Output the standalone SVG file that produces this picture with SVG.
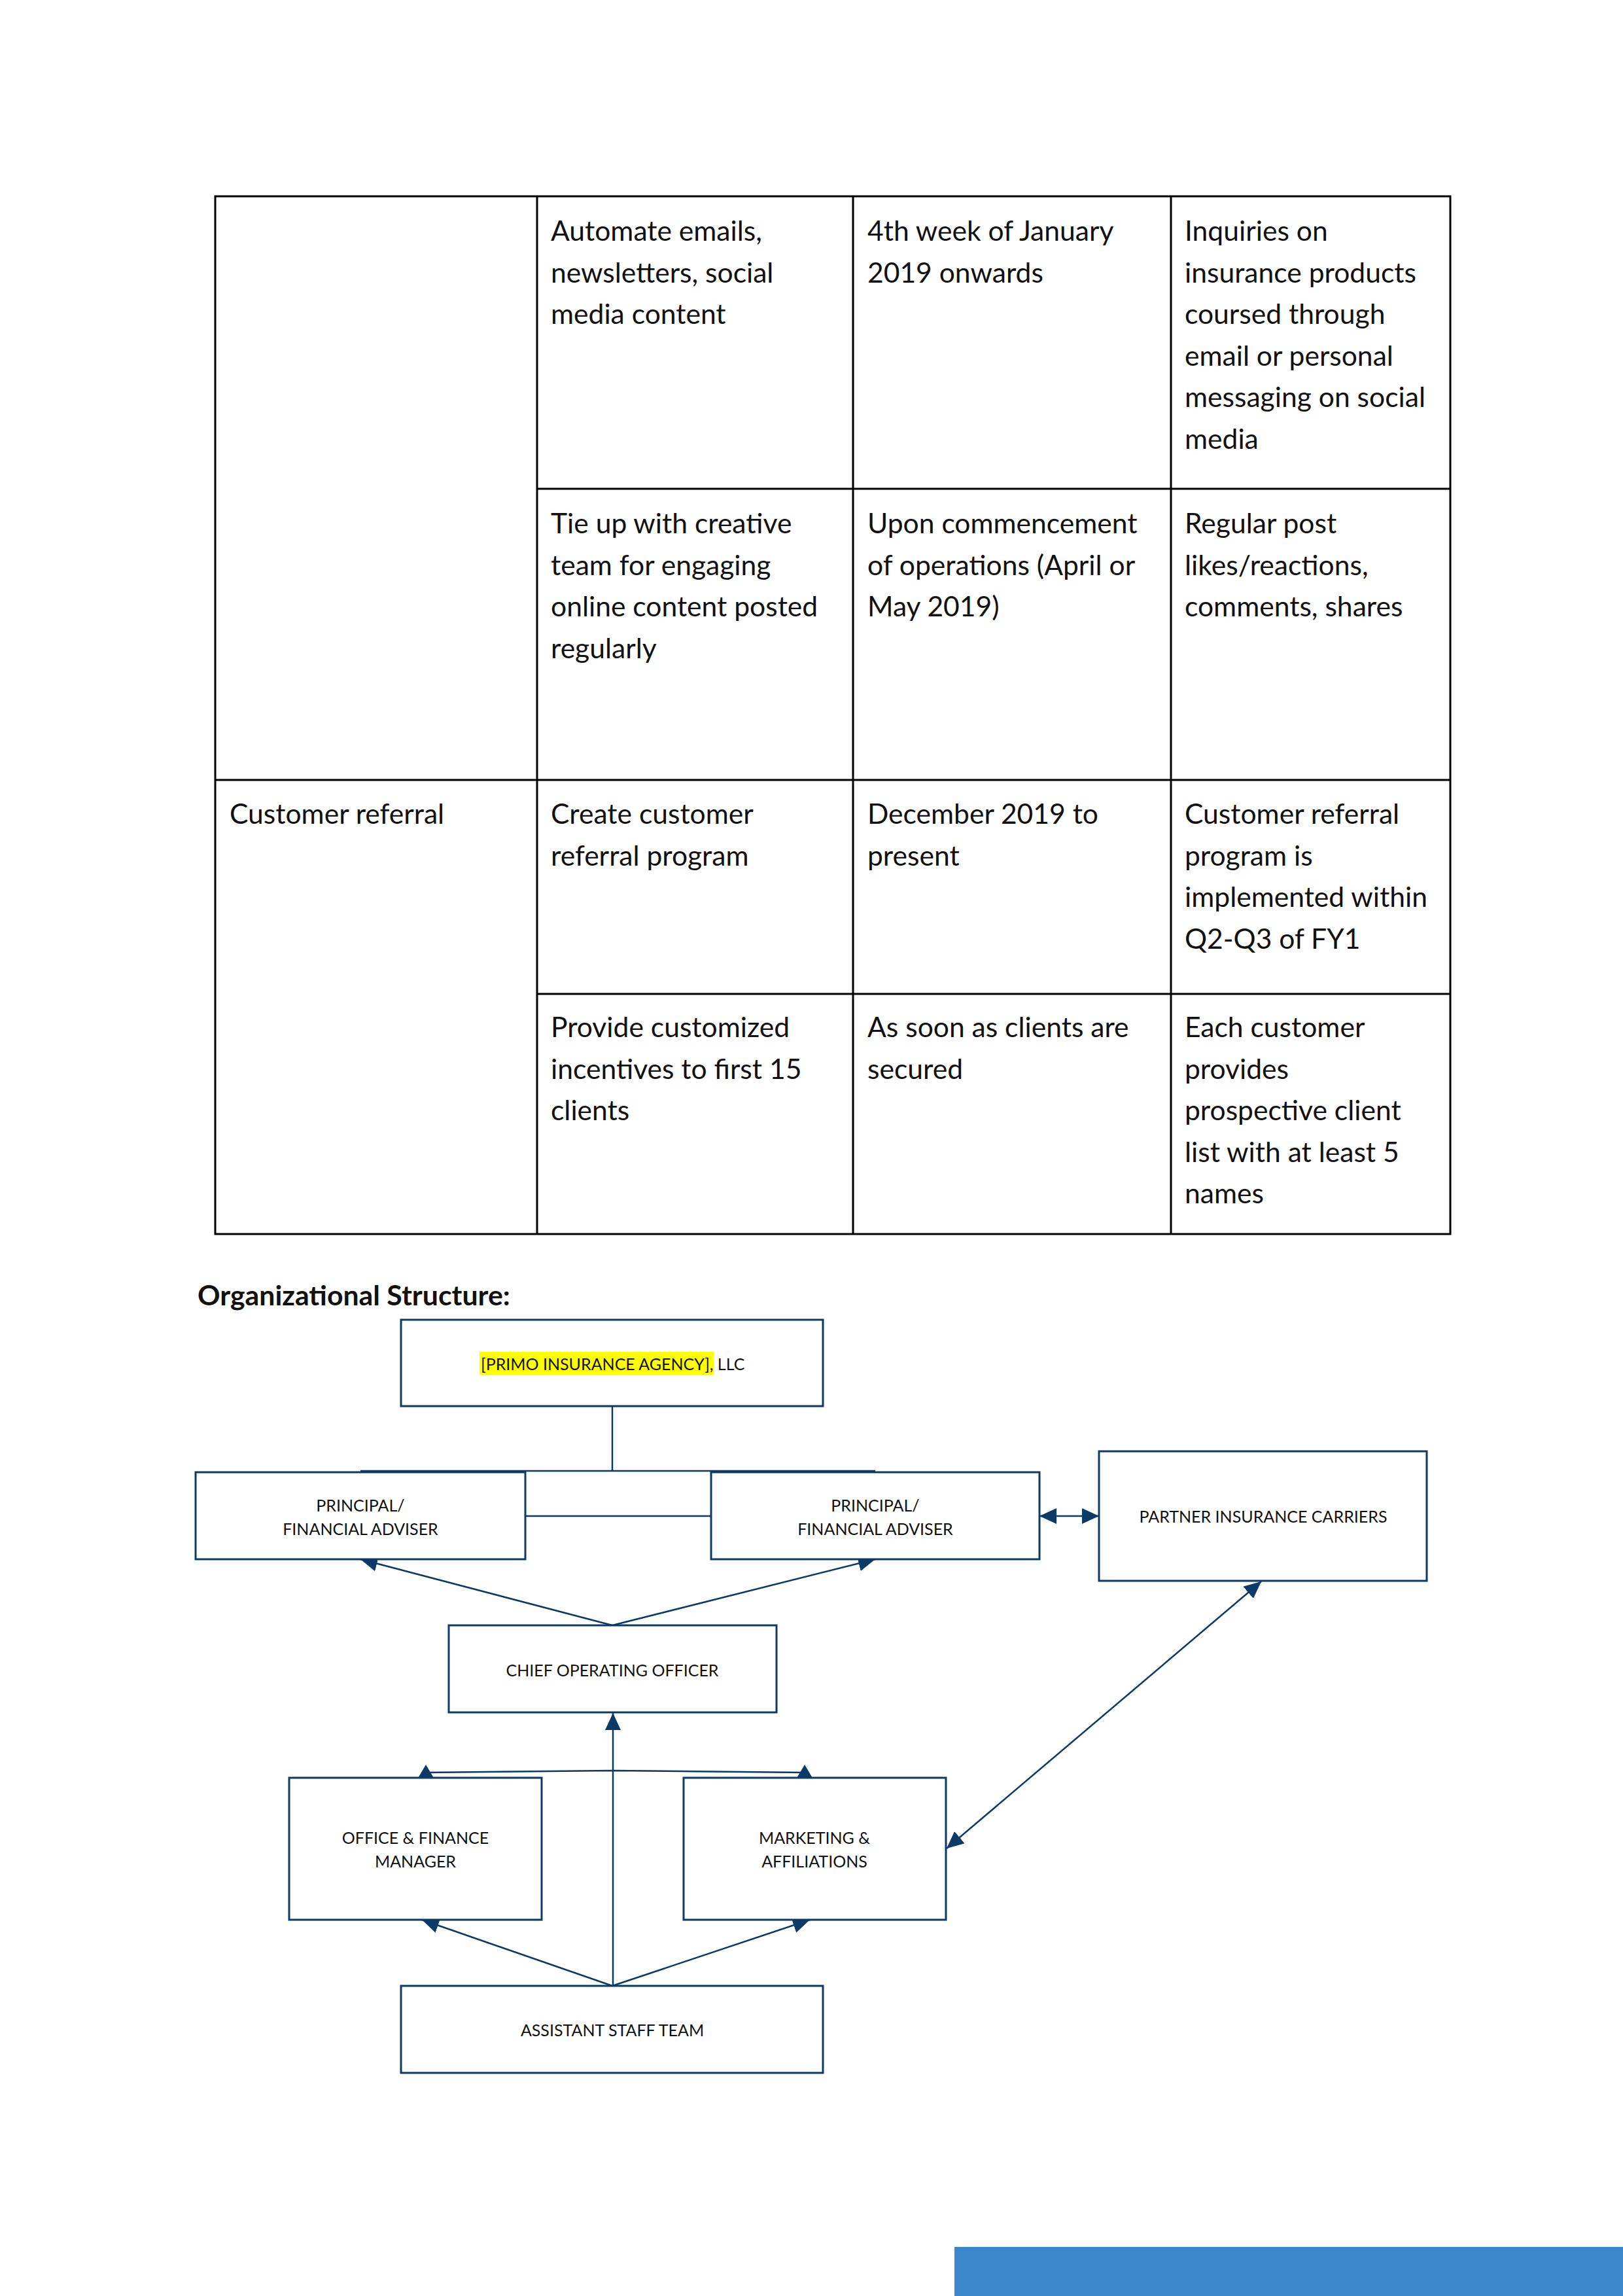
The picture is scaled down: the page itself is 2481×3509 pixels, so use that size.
<svg xmlns="http://www.w3.org/2000/svg" width="2481" height="3509" viewBox="0 0 2481 3509">
<style>
.tt{font-family:Lato,"Liberation Sans",sans-serif;font-size:42.6px;fill:#111}
.grid{stroke:#000;stroke-width:3;fill:none}
.box{fill:#fff;stroke:#0C3A66;stroke-width:3}
.bt{font-family:Lato,"Liberation Sans",sans-serif;font-size:25px;fill:#111;text-anchor:middle}
.con{stroke:#0C3A66;stroke-width:2.5;fill:none}
.head{fill:#0C3A66}
.h1{font-family:Lato,"Liberation Sans",sans-serif;font-size:42.8px;font-weight:bold;fill:#111}
</style>
<defs>
<marker id="arr" markerUnits="userSpaceOnUse" markerWidth="26" markerHeight="24" refX="26" refY="12" orient="auto-start-reverse" viewBox="0 0 26 24">
<path d="M0,0 L26,12 L0,24 z" fill="#0C3A66"/>
</marker>
</defs>
<rect width="2481" height="3509" fill="#fff"/>
<g id="table">
<rect class="grid" x="329" y="300" width="1888" height="1586"/>
<line class="grid" x1="821" y1="300" x2="821" y2="1886"/>
<line class="grid" x1="1304" y1="300" x2="1304" y2="1886"/>
<line class="grid" x1="1790" y1="300" x2="1790" y2="1886"/>
<line class="grid" x1="821" y1="747" x2="2217" y2="747"/>
<line class="grid" x1="329" y1="1192" x2="2217" y2="1192"/>
<line class="grid" x1="821" y1="1519" x2="2217" y2="1519"/>
<text class="tt" x="842" y="368"><tspan x="842">Automate emails,</tspan><tspan x="842" dy="63.5">newsletters, social</tspan><tspan x="842" dy="63.5">media content</tspan></text>
<text class="tt" x="1326" y="368"><tspan x="1326">4th week of January</tspan><tspan x="1326" dy="63.5">2019 onwards</tspan></text>
<text class="tt" x="1811" y="368"><tspan x="1811">Inquiries on</tspan><tspan x="1811" dy="63.5">insurance products</tspan><tspan x="1811" dy="63.5">coursed through</tspan><tspan x="1811" dy="63.5">email or personal</tspan><tspan x="1811" dy="63.5">messaging on social</tspan><tspan x="1811" dy="63.5">media</tspan></text>
<text class="tt" x="842" y="815"><tspan x="842">Tie up with creative</tspan><tspan x="842" dy="63.5">team for engaging</tspan><tspan x="842" dy="63.5">online content posted</tspan><tspan x="842" dy="63.5">regularly</tspan></text>
<text class="tt" x="1326" y="815"><tspan x="1326">Upon commencement</tspan><tspan x="1326" dy="63.5">of operations (April or</tspan><tspan x="1326" dy="63.5">May 2019)</tspan></text>
<text class="tt" x="1811" y="815"><tspan x="1811">Regular post</tspan><tspan x="1811" dy="63.5">likes/reactions,</tspan><tspan x="1811" dy="63.5">comments, shares</tspan></text>
<text class="tt" x="351" y="1259">Customer referral</text>
<text class="tt" x="842" y="1259"><tspan x="842">Create customer</tspan><tspan x="842" dy="63.5">referral program</tspan></text>
<text class="tt" x="1326" y="1259"><tspan x="1326">December 2019 to</tspan><tspan x="1326" dy="63.5">present</tspan></text>
<text class="tt" x="1811" y="1259"><tspan x="1811">Customer referral</tspan><tspan x="1811" dy="63.5">program is</tspan><tspan x="1811" dy="63.5">implemented within</tspan><tspan x="1811" dy="63.5">Q2-Q3 of FY1</tspan></text>
<text class="tt" x="842" y="1585"><tspan x="842">Provide customized</tspan><tspan x="842" dy="63.5">incentives to first 15</tspan><tspan x="842" dy="63.5">clients</tspan></text>
<text class="tt" x="1326" y="1585"><tspan x="1326">As soon as clients are</tspan><tspan x="1326" dy="63.5">secured</tspan></text>
<text class="tt" x="1811" y="1585"><tspan x="1811">Each customer</tspan><tspan x="1811" dy="63.5">provides</tspan><tspan x="1811" dy="63.5">prospective client</tspan><tspan x="1811" dy="63.5">list with at least 5</tspan><tspan x="1811" dy="63.5">names</tspan></text>
</g>
<text class="h1" x="302" y="1995">Organizational Structure:</text>
<g id="connectors">
<path class="con" d="M936,2150 L936,2248 M551,2248 L1338,2248"/>
<path class="con" d="M803,2317 L1087,2317"/>
<path class="con" d="M1589,2317 L1680,2317" marker-start="url(#arr)" marker-end="url(#arr)"/>
<path class="con" d="M936,2484 L551,2383" marker-end="url(#arr)"/>
<path class="con" d="M936,2484 L1338,2383" marker-end="url(#arr)"/>
<path class="con" d="M937,3035 L937,2618" marker-end="url(#arr)"/>
<path class="con" d="M937,2706 L651,2709 M937,2706 L1230,2709"/>
<polygon class="head" points="651,2697 638.5,2718 663.5,2718"/>
<polygon class="head" points="1230,2697 1217.5,2718 1242.5,2718"/>
<path class="con" d="M936,3035 L645,2934" marker-end="url(#arr)"/>
<path class="con" d="M936,3035 L1238,2934" marker-end="url(#arr)"/>
<path class="con" d="M1447,2825 L1928,2417" marker-start="url(#arr)" marker-end="url(#arr)"/>
</g>
<g id="agency">
<rect class="box" x="613" y="2017" width="645" height="132"/>
<rect x="733" y="2066" width="358" height="35" fill="#FFFF00"/>
<text class="bt" x="735" y="2094" style="text-anchor:start">[PRIMO INSURANCE AGENCY], LLC</text>
</g>
<g id="principal-left">
<rect class="box" x="299" y="2250" width="504" height="133"/>
<text class="bt" x="551" y="2310">PRINCIPAL/</text>
<text class="bt" x="551" y="2346">FINANCIAL ADVISER</text>
</g>
<g id="principal-right">
<rect class="box" x="1087" y="2250" width="502" height="133"/>
<text class="bt" x="1338" y="2310">PRINCIPAL/</text>
<text class="bt" x="1338" y="2346">FINANCIAL ADVISER</text>
</g>
<g id="partners">
<rect class="box" x="1680" y="2218" width="501" height="198"/>
<text class="bt" x="1931" y="2327">PARTNER INSURANCE CARRIERS</text>
</g>
<g id="coo">
<rect class="box" x="686" y="2484" width="501" height="133"/>
<text class="bt" x="936" y="2562">CHIEF OPERATING OFFICER</text>
</g>
<g id="office-finance">
<rect class="box" x="442" y="2717" width="386" height="217"/>
<text class="bt" x="635" y="2818">OFFICE &amp; FINANCE</text>
<text class="bt" x="635" y="2854">MANAGER</text>
</g>
<g id="marketing">
<rect class="box" x="1045" y="2717" width="401" height="217"/>
<text class="bt" x="1245" y="2818">MARKETING &amp;</text>
<text class="bt" x="1245" y="2854">AFFILIATIONS</text>
</g>
<g id="assistant">
<rect class="box" x="613" y="3035" width="645" height="133"/>
<text class="bt" x="936" y="3112">ASSISTANT STAFF TEAM</text>
</g>
<rect x="1459" y="3434" width="1022" height="75" fill="#3A88CB"/>
</svg>
